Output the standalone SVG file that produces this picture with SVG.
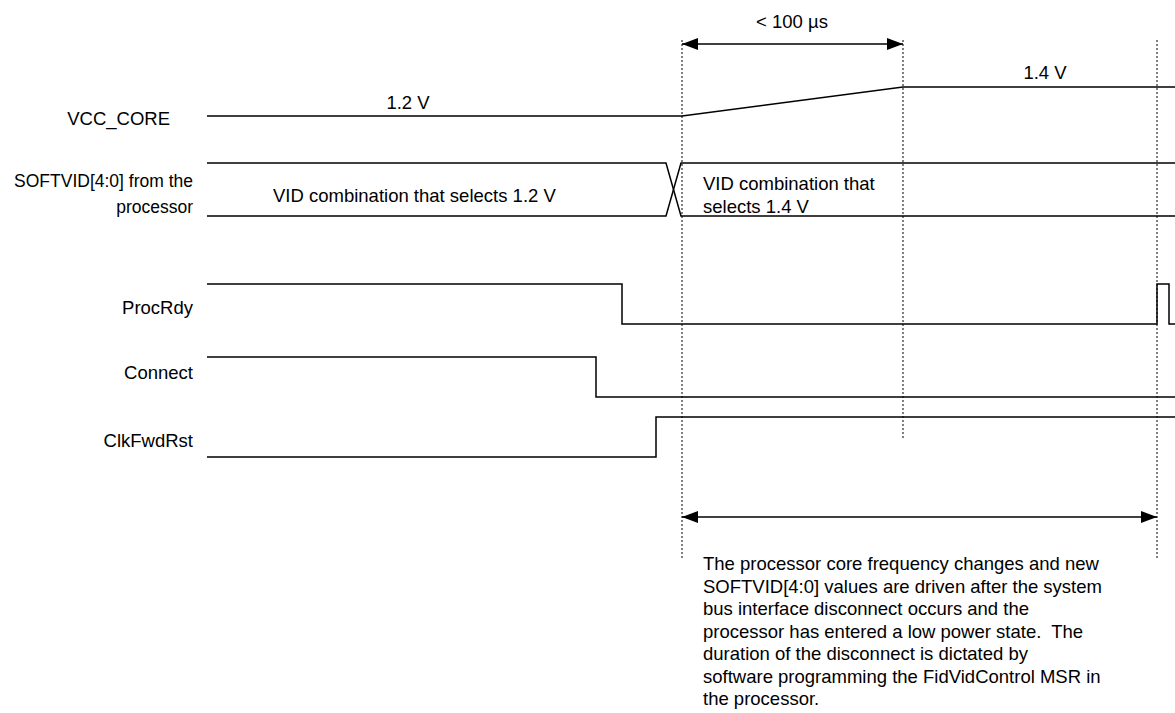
<svg xmlns="http://www.w3.org/2000/svg" width="1175" height="713" viewBox="0 0 1175 713">
<style>
text{font-family:"Liberation Sans",Arial,sans-serif;font-size:18.5px;fill:#000;white-space:pre}
.lbl{text-anchor:end}
.mid{text-anchor:middle}
.sig{fill:none;stroke:#000;stroke-width:1.5}
.dot{fill:none;stroke:#000;stroke-width:1;stroke-dasharray:2 2}
.arr{fill:none;stroke:#000;stroke-width:1.5}
</style>
<defs>
<marker id="ah" viewBox="0 0 16 12" refX="16" refY="6" markerWidth="16" markerHeight="12" markerUnits="userSpaceOnUse" orient="auto-start-reverse">
<path d="M0,0 L16,6 L0,12 Z" fill="#000"/>
</marker>
</defs>
<rect width="1175" height="713" fill="#fff"/>
<g id="guides">
<line class="dot" x1="682" y1="40" x2="682" y2="560"/>
<line class="dot" x1="903" y1="40" x2="903" y2="438"/>
<line class="dot" x1="1157" y1="40" x2="1157" y2="560"/>
</g>
<g id="vcc_core">
<text class="lbl" x="170" y="125">VCC_CORE</text>
<polyline class="sig" points="207,116 682,116 903,87 1175,87"/>
<text class="mid" x="408" y="109">1.2 V</text>
<text class="mid" x="1045" y="79">1.4 V</text>
</g>
<g id="softvid">
<text class="lbl" x="193" y="187" style="font-size:17.5px">SOFTVID[4:0] from the</text>
<text class="lbl" x="193" y="213" style="font-size:17.5px">processor</text>
<polyline class="sig" points="207,163 666,163 681,216 1175,216"/>
<polyline class="sig" points="207,216 666,216 681,163 1175,163"/>
<text x="273" y="202">VID combination that selects 1.2 V</text>
<text x="703" y="190">VID combination that</text>
<text x="703" y="213">selects 1.4 V</text>
</g>
<g id="procrdy">
<text class="lbl" x="193" y="314">ProcRdy</text>
<polyline class="sig" points="207,284 622,284 622,324 1157,324 1157,284 1169,284 1169,324 1175,324"/>
</g>
<g id="connect">
<text class="lbl" x="193" y="379">Connect</text>
<polyline class="sig" points="207,357 596,357 596,397 1175,397"/>
</g>
<g id="clkfwdrst">
<text class="lbl" x="193" y="447">ClkFwdRst</text>
<polyline class="sig" points="207,457 656,457 656,417 1175,417"/>
</g>
<g id="connectors">
<line class="arr" x1="682" y1="44" x2="903" y2="44" marker-start="url(#ah)" marker-end="url(#ah)"/>
<text class="mid" x="792" y="28">&lt; 100 µs</text>
<line class="arr" x1="682" y1="517" x2="1157" y2="517" marker-start="url(#ah)" marker-end="url(#ah)"/>
</g>
<g id="note">
<text x="703" y="570">The processor core frequency changes and new</text>
<text x="703" y="592.5">SOFTVID[4:0] values are driven after the system</text>
<text x="703" y="615">bus interface disconnect occurs and the</text>
<text x="703" y="637.5">processor has entered a low power state.  The</text>
<text x="703" y="660">duration of the disconnect is dictated by</text>
<text x="703" y="682.5">software programming the FidVidControl MSR in</text>
<text x="703" y="705">the processor.</text>
</g>
</svg>
